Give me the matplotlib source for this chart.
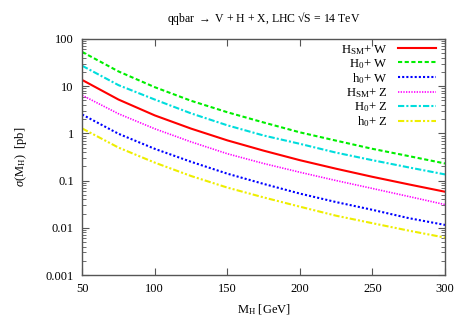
import numpy as np
import matplotlib
matplotlib.use("Agg")
from matplotlib import pyplot as plt
from matplotlib.ticker import FixedLocator, FuncFormatter, LogLocator, NullFormatter

plt.rcParams['font.family'] = ['Liberation Serif', 'DejaVu Serif']
plt.rcParams['mathtext.fontset'] = 'custom'
plt.rcParams['mathtext.rm'] = 'Liberation Serif'
plt.rcParams['mathtext.it'] = 'Liberation Serif:italic'
plt.rcParams['font.size'] = 8.5

# Higgs mass grid [GeV]
mh = [50, 75, 100, 125, 150, 175, 200, 225, 250, 275, 300]

# cross sections [pb]
hsm_w = [13.5, 5.2, 2.4, 1.26, 0.71, 0.43, 0.27, 0.178, 0.12, 0.083, 0.058]
h0_w = [53, 20.5, 9.5, 4.9, 2.8, 1.7, 1.05, 0.70, 0.47, 0.33, 0.23]
hl0_w = [2.5, 0.98, 0.47, 0.25, 0.14, 0.085, 0.053, 0.035, 0.024, 0.016, 0.0115]
hsm_z = [6.4, 2.6, 1.25, 0.66, 0.37, 0.23, 0.15, 0.10, 0.068, 0.046, 0.031]
h0_z = [27, 10.5, 5.2, 2.65, 1.48, 0.9, 0.6, 0.39, 0.27, 0.19, 0.135]
hl0_z = [1.27, 0.5, 0.24, 0.125, 0.071, 0.044, 0.028, 0.018, 0.0125, 0.0087, 0.0062]

labels = [r"H$_{\rm SM}$+ W", r"H$_0$+ W", r"h$_0$+ W",
          r"H$_{\rm SM}$+ Z", r"H$_0$+ Z", r"h$_0$+ Z"]

fig = plt.figure(figsize=(4.67, 3.27), dpi=100)
ax = fig.add_axes([0.176, 0.159, 0.777, 0.722])

ax.plot(mh, hsm_w, color='#ff0000', lw=1.5, ls='-', label=labels[0])
ax.plot(mh, h0_w, color='#00ee00', lw=1.5, ls=(0, (2, 1.2)), label=labels[1])
ax.plot(mh, hl0_w, color='#0000ff', lw=1.5, ls=(0, (1, 1)), label=labels[2])
ax.plot(mh, hsm_z, color='#ff00ff', lw=1.2, ls=(0, (0.8, 0.8)), label=labels[3])
ax.plot(mh, h0_z, color='#00dddd', lw=1.5, ls=(0, (3, 1, 1, 1)), label=labels[4])
ax.plot(mh, hl0_z, color='#eeee00', lw=1.5, ls=(0, (3, 1, 1, 1, 1, 1)), label=labels[5])

ax.set_yscale('log')
ax.set_xlim(50, 300)
ax.set_ylim(0.001, 100)
ax.xaxis.set_major_locator(FixedLocator([50, 100, 150, 200, 250, 300]))
ax.yaxis.set_major_locator(FixedLocator([0.001, 0.01, 0.1, 1, 10, 100]))
ax.yaxis.set_major_formatter(FuncFormatter(lambda v, p: '%g' % v))
ax.yaxis.set_minor_locator(LogLocator(base=10, subs=np.arange(2, 10)))
ax.yaxis.set_minor_formatter(NullFormatter())

for s in ax.spines.values():
    s.set_color('#555555')
    s.set_linewidth(1.0)
ax.tick_params(which='both', direction='in', top=True, right=True, color='#555555')
ax.tick_params(which='major', length=5, pad=6, labelsize=9)
ax.tick_params(which='minor', length=3)

ax.set_xlabel(r"M$_{\rm H}$ [GeV]", labelpad=5, fontsize=9)
ax.set_ylabel(r"$\sigma$(M$_{\rm H}$)  [pb]", labelpad=12, fontsize=9)
ax.set_title("qqbar $\\rightarrow$ V + H + X, LHC \u221aS = 14 TeV", pad=12, fontsize=8.5)

ax.legend(loc='upper right', frameon=False, markerfirst=False, handlelength=3.0,
          handletextpad=0.8, labelspacing=0.02, borderaxespad=0.0, fontsize=9.2,
          bbox_to_anchor=(0.99, 1.005))

fig.savefig("out.png", dpi=100)
